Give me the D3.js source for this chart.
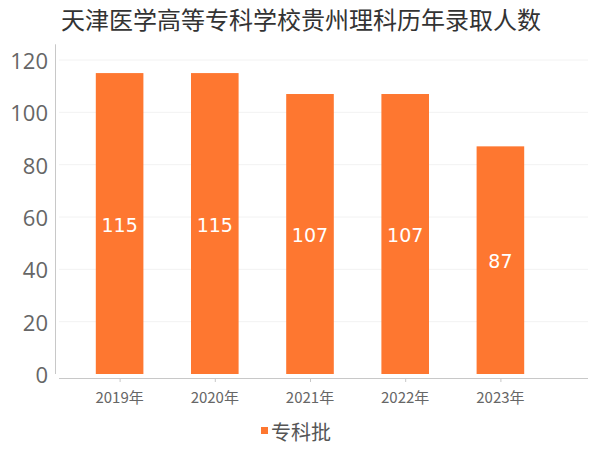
<!DOCTYPE html>
<html>
<head>
<meta charset="utf-8">
<script src="https://cdn.jsdelivr.net/npm/d3@7"></script>
<style>
  html, body { margin: 0; padding: 0; background: #fff; }
  svg { display: block; }
</style>
</head>
<body>
<svg id="chart" width="600" height="450"></svg>
<script>
// dati del grafico
const titolo = "天津医学高等专科学校贵州理科历年录取人数";
const anni = ["2019年", "2020年", "2021年", "2022年", "2023年"];
const valori = [115, 115, 107, 107, 87];
const yTicks = [0, 20, 40, 60, 80, 100, 120];
const serieNome = "专科批";

const svg = d3.select("#chart");
const colore = "#fe7730";
const cjk = "'Noto Sans CJK SC', 'Noto Sans', sans-serif";
const num = "'DejaVu Sans', sans-serif";
const numAsse = "'Open Sans', 'Noto Sans', sans-serif";

let xScale = d3.scaleBand()
  .domain(anni)
  .range([72, 548])
  .paddingInner(0.5)
  .paddingOuter(0.25);

let yScale = d3.scaleLinear()
  .domain([0, 120])
  .range([374, 60]);

// titolo
svg.append("text")
  .attr("x", 301)
  .attr("y", 18)
  .attr("text-anchor", "middle")
  .attr("dominant-baseline", "central")
  .style("font-family", cjk)
  .style("font-size", "24px")
  .style("fill", "#333")
  .text(titolo);

// griglia
svg.append("g")
  .selectAll("line")
  .data(yTicks.filter(d => d > 0))
  .enter()
  .append("line")
  .attr("x1", 59)
  .attr("x2", 588)
  .attr("y1", d => yScale(d))
  .attr("y2", d => yScale(d))
  .style("stroke", "#f2f2f2")
  .style("stroke-width", 1);

// asse y
svg.append("line")
  .attr("x1", 55.5).attr("x2", 55.5)
  .attr("y1", yScale(126)).attr("y2", yScale(0))
  .style("stroke", "#c8c8c8");

svg.append("g")
  .selectAll("text")
  .data(yTicks)
  .enter()
  .append("text")
  .attr("x", 48)
  .attr("y", d => yScale(d))
  .attr("text-anchor", "end")
  .attr("dominant-baseline", "central")
  .style("font-family", numAsse)
  .style("font-size", "22px")
  .style("fill", "#666")
  .text(d => d);

// asse x
svg.append("line")
  .attr("x1", 59).attr("x2", 588)
  .attr("y1", 378.5).attr("y2", 378.5)
  .style("stroke", "#c8c8c8");

svg.append("g")
  .selectAll("line")
  .data(anni)
  .enter()
  .append("line")
  .attr("x1", d => xScale(d) + xScale.bandwidth() / 2 + 0.5)
  .attr("x2", d => xScale(d) + xScale.bandwidth() / 2 + 0.5)
  .attr("y1", 378)
  .attr("y2", 382)
  .style("stroke", "#c8c8c8");

svg.append("g")
  .selectAll("text")
  .data(anni)
  .enter()
  .append("text")
  .attr("x", d => xScale(d) + xScale.bandwidth() / 2)
  .attr("y", 396)
  .attr("text-anchor", "middle")
  .attr("dominant-baseline", "central")
  .style("font-family", cjk)
  .style("font-size", "15px")
  .style("fill", "#666")
  .text(d => d);

// barre
const dati = anni.map((a, i) => ({anno: a, valore: valori[i]}));

svg.append("g")
  .selectAll("rect")
  .data(dati)
  .enter()
  .append("rect")
  .attr("x", d => xScale(d.anno))
  .attr("y", d => yScale(d.valore))
  .attr("width", xScale.bandwidth())
  .attr("height", d => yScale(0) - yScale(d.valore))
  .style("fill", colore);

// etichette valori
svg.append("g")
  .selectAll("text")
  .data(dati)
  .enter()
  .append("text")
  .attr("x", d => xScale(d.anno) + xScale.bandwidth() / 2)
  .attr("y", d => (yScale(d.valore) + yScale(0)) / 2 + 1)
  .attr("text-anchor", "middle")
  .attr("dominant-baseline", "central")
  .style("font-family", num)
  .style("font-size", "19px")
  .style("fill", "#fff")
  .text(d => d.valore);

// legenda
svg.append("rect")
  .attr("x", 261)
  .attr("y", 427)
  .attr("width", 7)
  .attr("height", 7)
  .style("fill", colore);

svg.append("text")
  .attr("x", 271)
  .attr("y", 431)
  .attr("dominant-baseline", "central")
  .style("font-family", cjk)
  .style("font-size", "20px")
  .style("fill", "#555")
  .text(serieNome);
</script>
</body>
</html>
